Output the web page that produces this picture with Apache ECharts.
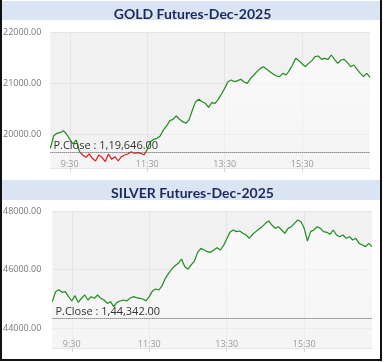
<!DOCTYPE html>
<html><head><meta charset="utf-8">
<script src="https://cdn.jsdelivr.net/npm/echarts@6/dist/echarts.min.js"></script>
<style>html,body{margin:0;padding:0;background:#fff}#c{width:385px;height:362px}</style>
</head><body><div id="c"></div>
<script>
const times = ['9:00','9:05','9:10','9:15','9:20','9:25','9:30','9:35','9:40','9:45','9:50','9:55',
'10:00','10:05','10:10','10:15','10:20','10:25','10:30','10:35','10:40','10:45','10:50','10:55',
'11:00','11:05','11:10','11:15','11:20','11:25','11:30','11:35','11:40','11:45','11:50','11:55',
'12:00','12:05','12:10','12:15','12:20','12:25','12:30','12:35','12:40','12:45','12:50','12:55',
'13:00','13:05','13:10','13:15','13:20','13:25','13:30','13:35','13:40','13:45','13:50','13:55',
'14:00','14:05','14:10','14:15','14:20','14:25','14:30','14:35','14:40','14:45','14:50','14:55',
'15:00','15:05','15:10','15:15','15:20','15:25','15:30','15:35','15:40','15:45','15:50','15:55',
'16:00','16:05','16:10','16:15','16:20','16:25','16:30','16:35','16:40','16:45','16:50','16:55',
'17:00','17:05','17:10','17:15'];
const goldValues = [119719,119960,120013,120026,120065,119999,119895,119804,119882,119653,
119588,119542,119608,119523,119470,119588,119542,119460,119608,119503,
119555,119470,119555,119588,119608,119653,119621,119634,119621,119588,
119699,119849,119895,119915,119960,120078,120157,120261,120287,120353,
120287,120242,120209,120287,120470,120634,120679,120634,120601,120523,
120614,120601,120679,120784,120895,121026,121059,121026,121046,121072,
121019,120993,121091,121157,121222,121287,121320,121268,121222,121176,
121137,121124,121189,121157,121242,121353,121483,121438,121372,121320,
121385,121438,121516,121529,121464,121483,121464,121549,121464,121385,
121451,121464,121398,121320,121353,121268,121189,121124,121189,121111];
const silverValues = [144905,145247,145315,145224,145247,145076,144928,145110,144883,145019,
145133,144962,145076,145019,145133,145019,144962,144848,144905,144735,
144883,144928,144962,144928,145019,145076,145042,145019,144996,144928,
145076,145270,145338,145304,145452,145702,145872,146020,146134,146214,
146362,146100,146020,146157,146293,146589,146726,146669,146612,146589,
146669,146748,146669,146817,147044,147272,147351,147295,147317,147238,
147181,147067,147204,147295,147386,147465,147579,147659,147522,147408,
147465,147351,147238,147408,147465,147579,147693,147636,147408,146976,
147295,147351,147465,147408,147295,147272,147204,147351,147181,147124,
147181,147067,147124,147010,147067,146896,146840,146783,146896,146783];
const goldTitle = 'GOLD Futures-Dec-2025';
const silverTitle = 'SILVER Futures-Dec-2025';
const goldPrevClose = 119646;
const silverPrevClose = 144342;
const goldPrevCloseLabel = 'P.Close : 1,19,646.00';
const silverPrevCloseLabel = 'P.Close : 1,44,342.00';
const goldYTicks = [120000, 121000, 122000];
const silverYTicks = [144000, 146000, 148000];
const xTickLabels = ['9:30', '11:30', '13:30', '15:30'];

const toMin = s => { const p = s.split(':'); return (+p[0]) * 60 + (+p[1]); };
const xTicks = xTickLabels.map(toMin);
const fmtTime = v => Math.floor(v / 60) + ':' + String(v % 60).padStart(2, '0');
const fmtY = v => (v % 100000).toFixed(2);
const GREEN = '#1f8a1f', RED = '#e41b1b';
const FONT = '"Open Sans", sans-serif';

function xAxisFor(gi) {
  return {
    type: 'value', gridIndex: gi, min: toMin(times[0]), max: toMin(times[times.length - 1]),
    axisLine: { show: true, lineStyle: { color: '#e2e6ee', width: 1 } },
    axisTick: { show: true, customValues: xTicks, length: 4, lineStyle: { color: '#d8d8d8' } },
    axisLabel: { customValues: xTicks, inside: true, margin: -1, formatter: fmtTime,
      color: '#777', fontSize: 9, fontFamily: FONT },
    splitLine: { show: true, lineStyle: { color: '#e4e4e4', width: 1 } }
  };
}
function yAxisFor(gi, min, max, ticks, margin) {
  return {
    type: 'value', gridIndex: gi, min: min, max: max,
    axisLine: { show: false }, axisTick: { show: false, customValues: ticks },
    axisLabel: { customValues: ticks, formatter: fmtY, color: '#777', fontSize: 9, fontFamily: FONT, margin: margin },
    splitLine: { show: true, lineStyle: { color: '#e4e4e4', width: 1 } }
  };
}
function lineSeries(xi, vals, pc, label, color) {
  const s = {
    type: 'line', xAxisIndex: xi, yAxisIndex: xi, showSymbol: false, symbol: 'none',
    data: times.map((t, i) => [toMin(t), vals[i]]),
    lineStyle: { width: 1.2 },
    areaStyle: { color: new echarts.graphic.LinearGradient(0, 0, 0, 1, [
      { offset: 0, color: 'rgba(255,255,255,0.9)' }, { offset: 1, color: 'rgba(255,255,255,0.35)' }]) },
    markLine: {
      silent: true, symbol: 'none', animation: false,
      lineStyle: { type: 'dotted', color: '#555', width: 1 },
      label: { show: true, position: 'insideStartTop', formatter: label, color: '#333',
        fontSize: 11, fontFamily: FONT, distance: [3, 1] },
      data: [{ yAxis: pc }]
    }
  };
  if (color) { s.lineStyle.color = color; s.itemStyle = { color: color }; }
  return s;
}

const chart = echarts.init(document.getElementById('c'), null, { renderer: 'canvas' });
chart.setOption({
  animation: false,
  backgroundColor: '#fff',
  title: [
    { text: goldTitle, left: 'center', top: 2, textStyle: { fontSize: 14, fontWeight: 'bold', color: '#1b2a5c', fontFamily: 'Lato, sans-serif' } },
    { text: silverTitle, left: 'center', top: 181, textStyle: { fontSize: 14, fontWeight: 'bold', color: '#1b2a5c', fontFamily: 'Lato, sans-serif' } }
  ],
  graphic: [
    { type: 'rect', z: -10, shape: { x: 2, y: 1, width: 378, height: 19 }, style: { fill: '#dbe4f3' } },
    { type: 'rect', z: -10, shape: { x: 2, y: 180, width: 378, height: 20 }, style: { fill: '#dbe4f3' } },
    { type: 'polyline', z: 100, shape: { points: [[1, 0], [1, 360], [381, 360], [381, 0]] }, style: { stroke: '#111', lineWidth: 2, fill: null } }
  ],
  grid: [
    { left: 50, right: 15, top: 32, height: 136, show: true, backgroundColor: '#f1f1f1', borderWidth: 0 },
    { left: 50, right: 13, top: 211, height: 137, show: true, backgroundColor: '#f1f1f1', borderWidth: 0 }
  ],
  xAxis: [xAxisFor(0), xAxisFor(1)],
  yAxis: [yAxisFor(0, 119333, 122000, goldYTicks, 9), yAxisFor(1, 143324, 148000, silverYTicks, 11)],
  visualMap: [{
    type: 'piecewise', show: false, seriesIndex: 0, dimension: 1,
    pieces: [{ min: 110000, max: goldPrevClose, color: RED }, { min: goldPrevClose, max: 130000, color: GREEN }]
  }],
  series: [
    lineSeries(0, goldValues, goldPrevClose, goldPrevCloseLabel, null),
    lineSeries(1, silverValues, silverPrevClose, silverPrevCloseLabel, GREEN)
  ]
});
</script></body></html>
